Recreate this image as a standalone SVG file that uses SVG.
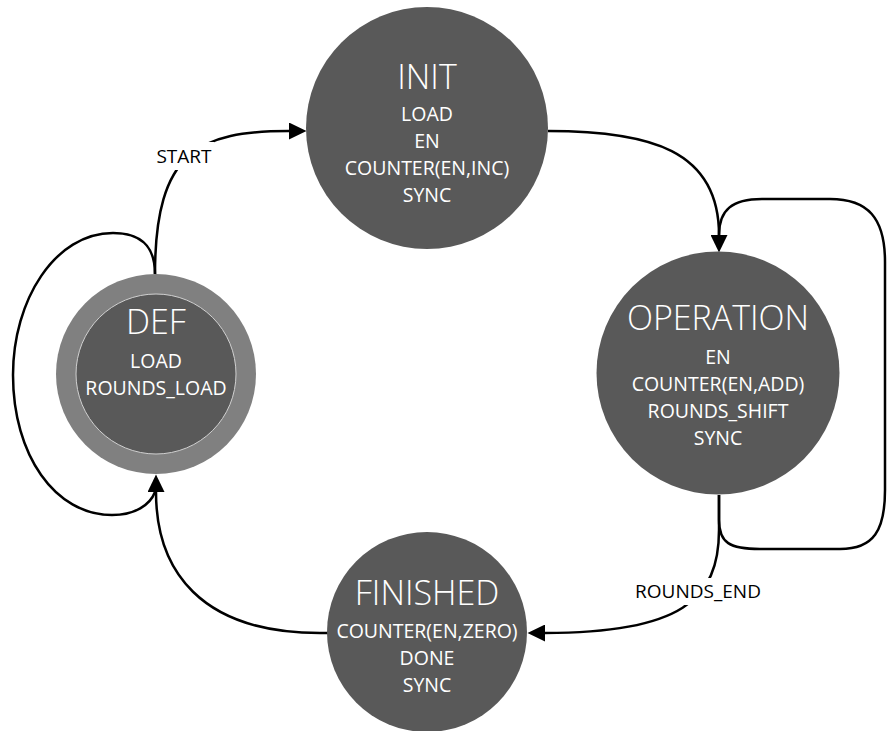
<svg xmlns="http://www.w3.org/2000/svg" width="887" height="731" viewBox="0 0 887 731">
  <style>
    .edge { fill: none; stroke: #000; stroke-width: 2.5; }
    .node { fill: #595959; }
    .ring { fill: #808080; }
    .inner { fill: #595959; stroke: #d0d0d0; stroke-width: 1; }
    .title { font-family: "Open Sans", "Liberation Sans", sans-serif; font-size: 34px; font-weight: 300; fill: #fff; text-anchor: middle; }
    .body { font-family: "Open Sans", "Liberation Sans", sans-serif; font-size: 19.5px; fill: #fff; text-anchor: middle; }
    .label { font-family: "Open Sans", "Liberation Sans", sans-serif; font-size: 19px; fill: #000; text-anchor: middle; }
    .labelbg { fill: #fff; }
  </style>
  <defs>
    <marker id="arrow" markerUnits="userSpaceOnUse" markerWidth="18" markerHeight="17" refX="0" refY="8.5" orient="auto">
      <path d="M0,0 L17.5,8.5 L0,17 z" fill="#000"/>
    </marker>
  </defs>
  <rect width="887" height="731" fill="#fff"/>

  <g id="connectors">
    <!-- DEF -> INIT (START) -->
    <path id="e-start" class="edge" d="M155,274 C155,150 200,131 289,131" marker-end="url(#arrow)"/>
    <!-- DEF self-loop -->
    <path id="e-def-loop" class="edge" d="M155,274 C155,245 140,233 113,233 C55,233 13,300 13,375 C13,455 55,515 112,515 C135,515 150,505 155,492"/>
    <!-- INIT -> OPERATION -->
    <path id="e-init-op" class="edge" d="M548,131 C650,131 719,150 719,235" marker-end="url(#arrow)"/>
    <!-- OPERATION self-loop -->
    <path id="e-op-loop" class="edge" d="M719,495 L719,520 C719,543 730,549 760,549 L840,549 C874,549 885,530 885,490 L885,262 C885,218 868,199 830,199 L762,199 C732,199 719,210 719,235"/>
    <!-- OPERATION -> FINISHED (ROUNDS_END) -->
    <path id="e-op-fin" class="edge" d="M719,495 L719,530 C719,600 680,633 545,633" marker-end="url(#arrow)"/>
    <!-- FINISHED -> DEF -->
    <path id="e-fin-def" class="edge" d="M328,633 L320,633 C200,633 156,570 156,492" marker-end="url(#arrow)"/>

    <g id="label-start">
      <rect class="labelbg" x="153" y="142" width="61" height="28"/>
      <text class="label" x="184" y="163">START</text>
    </g>
    <g id="label-rounds-end">
      <rect class="labelbg" x="630" y="578" width="136" height="27"/>
      <text class="label" x="698" y="598">ROUNDS_END</text>
    </g>
  </g>

  <g id="node-init">
    <circle class="node" cx="427" cy="128" r="121"/>
    <text class="title" x="427" y="89">INIT</text>
    <text class="body" x="427" y="121">LOAD</text>
    <text class="body" x="427" y="148">EN</text>
    <text class="body" x="427" y="175">COUNTER(EN,INC)</text>
    <text class="body" x="427" y="202">SYNC</text>
  </g>

  <g id="node-operation">
    <circle class="node" cx="718" cy="373" r="121.5"/>
    <text class="title" x="718" y="330">OPERATION</text>
    <text class="body" x="718" y="364">EN</text>
    <text class="body" x="718" y="391">COUNTER(EN,ADD)</text>
    <text class="body" x="718" y="418">ROUNDS_SHIFT</text>
    <text class="body" x="718" y="445">SYNC</text>
  </g>

  <g id="node-def">
    <circle class="ring" cx="156" cy="374" r="100"/>
    <circle class="inner" cx="156" cy="374" r="80"/>
    <text class="title" x="156" y="334">DEF</text>
    <text class="body" x="156" y="368">LOAD</text>
    <text class="body" x="156" y="395">ROUNDS_LOAD</text>
  </g>

  <g id="node-finished">
    <circle class="node" cx="427" cy="632" r="100"/>
    <text class="title" x="427" y="605">FINISHED</text>
    <text class="body" x="427" y="638">COUNTER(EN,ZERO)</text>
    <text class="body" x="427" y="665">DONE</text>
    <text class="body" x="427" y="692">SYNC</text>
  </g>
</svg>
